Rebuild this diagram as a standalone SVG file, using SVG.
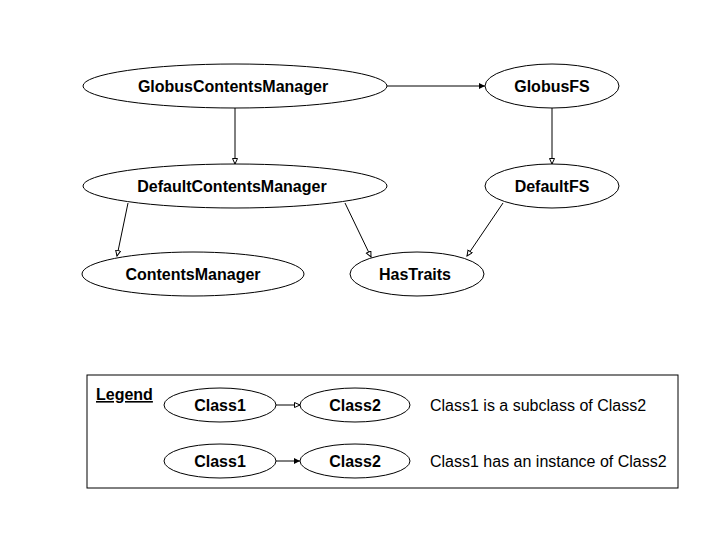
<svg xmlns="http://www.w3.org/2000/svg" width="720" height="540" viewBox="0 0 720 540">
<style>
.n ellipse{fill:#fff;stroke:#000;stroke-width:1}
.n text{font-family:"Liberation Sans",Arial,sans-serif;font-weight:bold;font-size:16px;text-anchor:middle;fill:#000}
.e line{stroke:#000;stroke-width:1}
.sub{marker-end:url(#open)}
.inst{marker-end:url(#filled)}
.t{font-family:"Liberation Sans",Arial,sans-serif;font-size:16px;fill:#000}
</style>
<defs>
<marker id="open" markerWidth="8" markerHeight="8" refX="6" refY="3" orient="auto" markerUnits="userSpaceOnUse">
<path d="M0.5,0.5 L6,3 L0.5,5.5 Z" fill="#fff" stroke="#000" stroke-width="1"/>
</marker>
<marker id="filled" markerWidth="8" markerHeight="8" refX="6" refY="3" orient="auto" markerUnits="userSpaceOnUse">
<path d="M0,0 L6,3 L0,6 Z" fill="#000"/>
</marker>
</defs>
<rect width="720" height="540" fill="#fff"/>
<g id="connectors" class="e">
<line class="inst" x1="387" y1="86" x2="485" y2="86"/>
<line class="sub" x1="235" y1="108" x2="235" y2="164"/>
<line class="sub" x1="552" y1="108" x2="552" y2="164"/>
<line class="sub" x1="128" y1="203" x2="117" y2="256"/>
<line class="sub" x1="345" y1="203" x2="371" y2="257"/>
<line class="sub" x1="503" y1="203" x2="467" y2="256"/>
</g>
<g id="GlobusContentsManager" class="n"><ellipse cx="235" cy="86" rx="152" ry="22"/><text x="233" y="92">GlobusContentsManager</text></g>
<g id="GlobusFS" class="n"><ellipse cx="552" cy="86" rx="67" ry="22"/><text x="552" y="92">GlobusFS</text></g>
<g id="DefaultContentsManager" class="n"><ellipse cx="235" cy="186" rx="152" ry="22"/><text x="232" y="192">DefaultContentsManager</text></g>
<g id="DefaultFS" class="n"><ellipse cx="552" cy="186" rx="67" ry="22"/><text x="552" y="192">DefaultFS</text></g>
<g id="ContentsManager" class="n"><ellipse cx="193" cy="274" rx="111" ry="22"/><text x="193" y="280">ContentsManager</text></g>
<g id="HasTraits" class="n"><ellipse cx="417" cy="274" rx="67" ry="22"/><text x="415" y="280">HasTraits</text></g>
<g id="legend">
<rect x="87" y="375" width="591" height="113" fill="none" stroke="#000" stroke-width="1"/>
<text class="t" x="96" y="400" font-weight="bold" text-decoration="underline">Legend</text>
<g class="e">
<line class="sub" x1="276" y1="405" x2="300" y2="405"/>
<line class="inst" x1="276" y1="461" x2="300" y2="461"/>
</g>
<g id="legend-sub-c1" class="n"><ellipse cx="220" cy="405" rx="56" ry="17"/><text x="220" y="411">Class1</text></g>
<g id="legend-sub-c2" class="n"><ellipse cx="355" cy="405" rx="55" ry="17"/><text x="355" y="411">Class2</text></g>
<g id="legend-inst-c1" class="n"><ellipse cx="220" cy="461" rx="56" ry="17"/><text x="220" y="467">Class1</text></g>
<g id="legend-inst-c2" class="n"><ellipse cx="355" cy="461" rx="55" ry="17"/><text x="355" y="467">Class2</text></g>
<text class="t" x="430" y="411">Class1 is a subclass of Class2</text>
<text class="t" x="430" y="467">Class1 has an instance of Class2</text>
</g>
</svg>
